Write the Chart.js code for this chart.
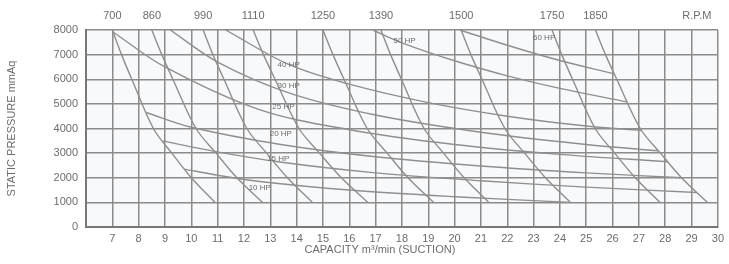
<!DOCTYPE html>
<html>
<head>
<meta charset="utf-8">
<script src="https://cdn.jsdelivr.net/npm/chart.js@4.4.1/dist/chart.umd.min.js"></script>
<style>
  html, body { margin: 0; padding: 0; background: #fff; }
  canvas { display: block; }
</style>
</head>
<body>
<canvas id="fan" width="729" height="264"></canvas>
<script>
// capacity (m3/min) of each rpm curve, read at these static pressures
const pressureSteps = [8000, 7000, 6000, 4000, 3000, 2000, 1000];
const rpm700 = [7.0, 7.35, 7.74, 8.56, 9.26, 10.0, 10.9];
const rpm860 = [8.5, 8.88, 9.3, 10.18, 10.94, 11.73, 12.7];
const rpm990 = [10.45, 10.82, 11.24, 12.11, 12.86, 13.65, 14.6];
const rpm1110 = [12.35, 12.74, 13.18, 14.09, 14.87, 15.7, 16.7];
const rpm1250 = [15.0, 15.38, 15.8, 16.68, 17.44, 18.23, 19.2];
const rpm1390 = [17.2, 17.57, 17.98, 18.84, 19.58, 20.36, 21.3];
const rpm1500 = [20.25, 20.62, 21.04, 21.91, 22.66, 23.45, 24.4];
const rpm1750 = [23.7, 24.07, 24.48, 25.34, 26.08, 26.86, 27.8];
const rpm1850 = [25.35, 25.73, 26.16, 27.05, 27.82, 28.62, 29.6];
const rpmLabels = ["700", "860", "990", "1110", "1250", "1390", "1500", "1750", "1850"];
const rpmUnit = "R.P.M";
const rpmUnitAt = 29.2;

// horsepower lines, [capacity, pressure]
const hp10 = [[9.74, 2350], [11, 2100], [12.6, 1850], [16, 1500], [20, 1230], [24.4, 1000]];
const hp15 = [[8.91, 3500], [10.5, 3150], [13.3, 2650], [17, 2200], [21, 1880], [25, 1620], [29.2, 1400]];
const hp20 = [[8.29, 4650], [10, 4050], [13.4, 3350], [17, 2850], [21, 2480], [25, 2200], [28.62, 2000]];
const hp25 = [[7.05, 7900], [9, 6500], [12.5, 4800], [16, 3950], [20, 3350], [24, 2950], [28.1, 2650]];
const hp30 = [[9.2, 8000], [11, 6700], [13.7, 5450], [17, 4550], [21, 3850], [25, 3350], [27.75, 3090]];
const hp40 = [[11.3, 8000], [13.7, 6600], [16, 5800], [19, 5050], [22, 4500], [25, 4100], [27.1, 3920]];
const hp50 = [[16.9, 8000], [18, 7480], [20, 6750], [22, 6140], [24, 5630], [26.55, 5080]];
const hp60 = [[20.2, 8000], [22, 7380], [24, 6760], [26.05, 6220]];
const hpLabels = ["10 HP", "15 HP", "20 HP", "25 HP", "30 HP", "40 HP", "50 HP", "60 HP"];
const hpLabelAt = [[12.6, 1600], [13.3, 2750], [13.4, 3800], [13.5, 4900], [13.7, 5750], [13.7, 6600], [18.1, 7550], [23.4, 7700]];

const textColor = "#6c6c6c";
const fontFamily = "'Liberation Sans', Arial, sans-serif";

const rpmSets = [rpm700, rpm860, rpm990, rpm1110, rpm1250, rpm1390, rpm1500, rpm1750, rpm1850].map((caps) => ({
  data: caps.map((c, i) => ({ x: c, y: pressureSteps[i] })),
}));
const hpSets = [hp10, hp15, hp20, hp25, hp30, hp40, hp50, hp60].map((pts) => ({
  data: pts.map(([x, y]) => ({ x, y })),
}));

const datasets = rpmSets.concat(hpSets).map((ds) => ({
  ...ds,
  borderColor: "#8f8f8f",
  borderWidth: 1.4,
  pointRadius: 0,
  fill: false,
  tension: 0.35,
}));

// plot background and the hp labels
const extras = {
  id: "extras",
  beforeDraw(chart) {
    const { ctx, chartArea: a } = chart;
    ctx.save();
    ctx.fillStyle = "#f8f9fb";
    ctx.fillRect(a.left, a.top, a.right - a.left, a.bottom - a.top);
    ctx.restore();
  },
  afterDatasetsDraw(chart) {
    const { ctx, scales: { x, y } } = chart;
    ctx.save();
    ctx.font = "8px " + fontFamily;
    ctx.fillStyle = textColor;
    ctx.textAlign = "center";
    ctx.textBaseline = "middle";
    hpLabels.forEach((t, i) => {
      ctx.fillText(t, x.getPixelForValue(hpLabelAt[i][0]), y.getPixelForValue(hpLabelAt[i][1]));
    });
    ctx.restore();
  },
};

const topTicks = rpmSets.map((s) => s.data[0].x).concat([rpmUnitAt]);
const topLabels = rpmLabels.concat([rpmUnit]);
const tickFont = { size: 11, family: fontFamily };

new Chart(document.getElementById("fan"), {
  type: "line",
  data: { datasets },
  plugins: [extras],
  options: {
    responsive: false,
    animation: false,
    devicePixelRatio: 1,
    layout: { padding: { top: 0, left: 0, right: 9, bottom: 0 } },
    plugins: { legend: { display: false }, tooltip: { enabled: false } },
    scales: {
      x: {
        type: "linear",
        min: 6,
        max: 30,
        grid: { color: "#8c8c8c", lineWidth: 1.5, drawTicks: false },
        border: { color: "#777", width: 2 },
        ticks: {
          stepSize: 1,
          padding: 5,
          color: textColor,
          font: tickFont,
          maxRotation: 0,
          autoSkip: false,
          callback: (v) => (v === 6 ? "" : String(v)),
        },
        title: {
          display: true,
          // trailing spaces pull the centred title a little to the left, as in the original
          text: "CAPACITY m³/min (SUCTION)\u2003\u2003\u2003\u2003",
          color: textColor,
          font: { size: 11, family: fontFamily },
          padding: { top: 0, bottom: 7 },
        },
        afterFit: (s) => { s.height = 37; },
      },
      x2: {
        type: "linear",
        position: "top",
        min: 6,
        max: 30,
        grid: { display: false, drawTicks: false },
        border: { display: false },
        afterBuildTicks: (axis) => { axis.ticks = topTicks.map((v) => ({ value: v })); },
        ticks: {
          autoSkip: false,
          maxRotation: 0,
          padding: 7,
          color: textColor,
          font: tickFont,
          callback: (v, i) => topLabels[i],
        },
        afterFit: (s) => { s.height = 30; },
      },
      y: {
        type: "linear",
        min: 0,
        max: 8000,
        grid: { color: "#8c8c8c", lineWidth: 1.5, drawTicks: false },
        border: { color: "#777", width: 2 },
        ticks: {
          stepSize: 1000,
          padding: 8,
          color: textColor,
          font: tickFont,
          callback: (v) => String(v),
        },
        title: {
          display: true,
          text: "STATIC PRESSURE mmAq",
          color: textColor,
          font: { size: 11, family: fontFamily },
          padding: { top: 5, bottom: 0 },
        },
        afterFit: (s) => { s.width = 86; },
      },
    },
  },
});
</script>
</body>
</html>
